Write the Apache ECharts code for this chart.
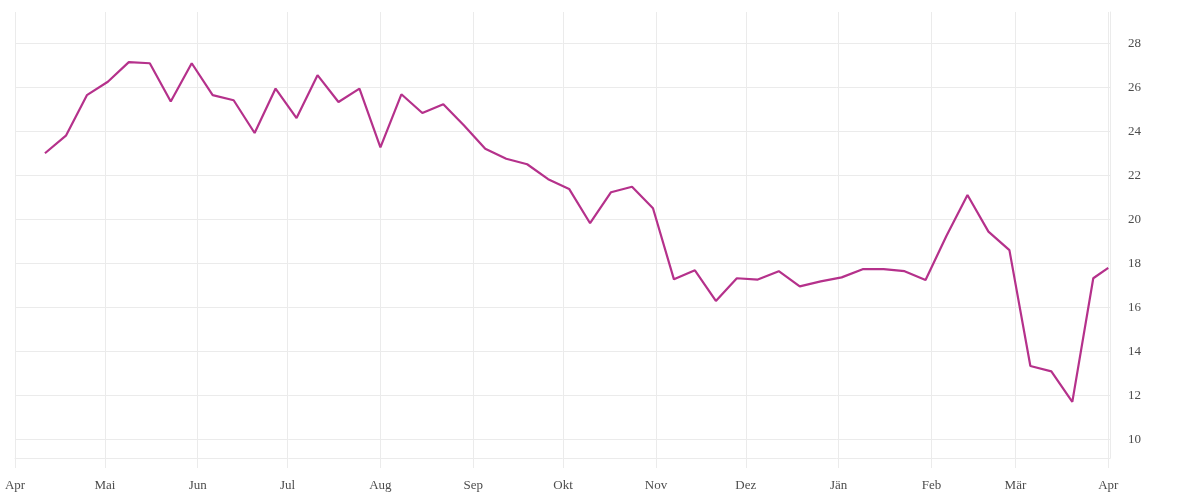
<!DOCTYPE html>
<html>
<head>
<meta charset="utf-8">
<script src="https://cdn.jsdelivr.net/npm/echarts@6/dist/echarts.min.js"></script>
<style>
html,body{margin:0;padding:0;background:#fff;}
#chart{width:1200px;height:500px;}
</style>
</head>
<body>
<div id="chart"></div>
<script>
const dates = [
  '2022-04-11','2022-04-18','2022-04-25',
  '2022-05-02','2022-05-09','2022-05-16','2022-05-23','2022-05-30',
  '2022-06-06','2022-06-13','2022-06-20','2022-06-27',
  '2022-07-04','2022-07-11','2022-07-18','2022-07-25',
  '2022-08-01','2022-08-08','2022-08-15','2022-08-22','2022-08-29',
  '2022-09-05','2022-09-12','2022-09-19','2022-09-26',
  '2022-10-03','2022-10-10','2022-10-17','2022-10-24','2022-10-31',
  '2022-11-07','2022-11-14','2022-11-21','2022-11-28',
  '2022-12-05','2022-12-12','2022-12-19','2022-12-26',
  '2023-01-02','2023-01-09','2023-01-16','2023-01-23','2023-01-30',
  '2023-02-06','2023-02-13','2023-02-20','2023-02-27',
  '2023-03-06','2023-03-13','2023-03-20','2023-03-27',
  '2023-04-01'
];
const values = [
  23.0, 23.8, 25.64,
  26.25, 27.14, 27.09, 25.35, 27.09,
  25.64, 25.41, 23.92, 25.94,
  24.6, 26.55, 25.33, 25.94,
  23.27, 25.68, 24.83, 25.23, 24.25,
  23.21, 22.75, 22.5, 21.82,
  21.38, 19.82, 21.23, 21.48, 20.5,
  17.27, 17.68, 16.29, 17.32,
  17.26, 17.64, 16.95, 17.18,
  17.36, 17.73, 17.73, 17.64, 17.24,
  19.25, 21.1, 19.44, 18.6,
  13.33, 13.09, 11.7, 17.32,
  17.79
];
const monthTickDates = [
  '2022-04-01','2022-05-01','2022-06-01','2022-07-01','2022-08-01','2022-09-01',
  '2022-10-01','2022-11-01','2022-12-01','2023-01-01','2023-02-01','2023-03-01','2023-04-01'
];
const monthTickLabels = ['Apr','Mai','Jun','Jul','Aug','Sep','Okt','Nov','Dez','Jän','Feb','Mär','Apr'];
const yTickValues = [10, 12, 14, 16, 18, 20, 22, 24, 26, 28];

const xMinDate = '2022-04-01T00:00:00';
const xMaxDate = '2023-04-01T14:00:00';
const yMin = 9.15;
const yMax = 29.42;

function ts(s) { return new Date(s.length === 10 ? s + 'T00:00:00' : s).getTime(); }

const monthTickTs = monthTickDates.map(ts);
const labelByTs = {};
monthTickTs.forEach((t, i) => { labelByTs[t] = monthTickLabels[i]; });

const seriesData = dates.map((d, i) => [ts(d), values[i]]);

const gridColor = '#ebebeb';
const textColor = '#4d4d4d';
const fontFamily = '"Liberation Serif", "DejaVu Serif", serif';

const chart = echarts.init(document.getElementById('chart'), null, {renderer: 'canvas'});
chart.setOption({
  animation: false,
  backgroundColor: '#ffffff',
  grid: {
    left: 15, right: 90, top: 12, bottom: 42,
    containLabel: false,
    outerBoundsMode: 'none'
  },
  xAxis: {
    type: 'value',
    min: ts(xMinDate),
    max: ts(xMaxDate),
    axisLine: { show: true, lineStyle: { color: gridColor, width: 1 } },
    axisTick: {
      show: true, length: 10, customValues: monthTickTs,
      lineStyle: { color: gridColor, width: 1 }
    },
    axisLabel: {
      customValues: monthTickTs,
      margin: 21,
      color: textColor,
      fontFamily: fontFamily,
      fontSize: 13,
      hideOverlap: false,
      showMinLabel: true,
      showMaxLabel: true,
      formatter: function (val) { return labelByTs[val] || ''; }
    },
    splitLine: { show: true, lineStyle: { color: gridColor, width: 1 } }
  },
  yAxis: {
    type: 'value',
    position: 'right',
    min: yMin,
    max: yMax,
    axisLine: { show: true, lineStyle: { color: gridColor, width: 1 } },
    axisTick: { show: false, customValues: yTickValues },
    axisLabel: {
      customValues: yTickValues,
      margin: 18,
      padding: [2, 0, 0, 0],
      color: textColor,
      fontFamily: fontFamily,
      fontSize: 13
    },
    splitLine: { show: true, lineStyle: { color: gridColor, width: 1 } }
  },
  series: [{
    type: 'line',
    data: seriesData,
    showSymbol: false,
    symbol: 'none',
    lineStyle: { color: '#b5318b', width: 2.2 },
    itemStyle: { color: '#b5318b' },
    z: 5
  }]
});
</script>
</body>
</html>
